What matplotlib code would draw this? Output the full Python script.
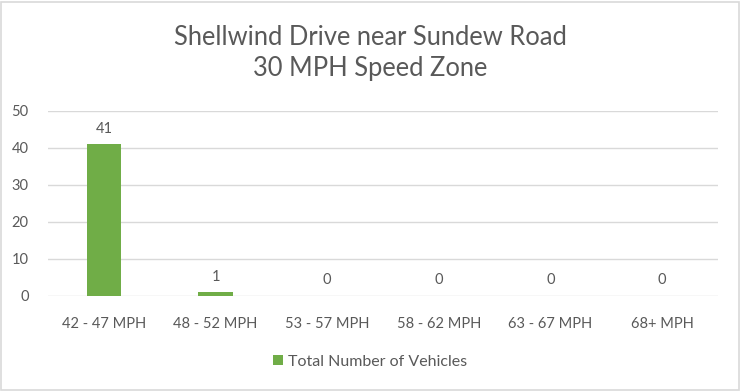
import matplotlib.pyplot as plt
from matplotlib.patches import Rectangle

categories = ['42 - 47 MPH', '48 - 52 MPH', '53 - 57 MPH', '58 - 62 MPH', '63 - 67 MPH', '68+ MPH']
vehicles = [41, 1, 0, 0, 0, 0]
series_name = 'Total Number of Vehicles'
title = 'Shellwind Drive near Sundew Road\n30 MPH Speed Zone'

text_col = '#595959'
green = '#70AD47'
grid_col = '#D9D9D9'

plt.rcParams['font.family'] = ['Lato', 'DejaVu Sans']

fig = plt.figure(figsize=(7.4, 3.92), dpi=100)
ax = fig.add_axes([0.065, 0.245, 0.905, 0.472])

x = range(len(categories))
bars = ax.bar(x, vehicles, width=0.31, color=green, label=series_name, zorder=3)
for xi, v in zip(x, vehicles):
    ax.text(xi, v + 2.3, str(v), ha='center', va='bottom', fontsize=10.5, color=text_col)

ax.set_xlim(-0.5, len(categories) - 0.5)
ax.set_ylim(0, 50)
ax.set_yticks(range(0, 51, 10))
ax.set_xticks(list(x))
ax.set_xticklabels(categories)
ax.tick_params(axis='both', length=0, labelsize=10.5, labelcolor=text_col)
ax.tick_params(axis='x', pad=15)
ax.tick_params(axis='y', pad=14)
ax.grid(axis='y', color=grid_col, linewidth=1, zorder=0)
for s in ax.spines.values():
    s.set_visible(False)

fig.text(0.5, 0.865, title, ha='center', va='center', fontsize=18.4, color=text_col, linespacing=1.3)

leg = fig.legend(loc='center', bbox_to_anchor=(0.5, 0.077), frameon=False, fontsize=11.5,
                 handlelength=0.6, handleheight=0.6, handletextpad=0.3)
for t in leg.get_texts():
    t.set_color(text_col)

fig.patches.append(Rectangle((0.002, 0.004), 0.996, 0.992, transform=fig.transFigure,
                             fill=False, edgecolor=grid_col, linewidth=1.2))

fig.savefig('out.png', dpi=100, facecolor='white')
